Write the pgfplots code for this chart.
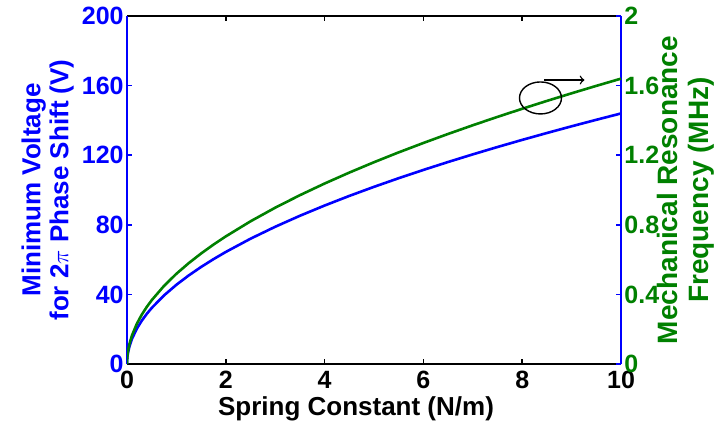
\documentclass[border=0pt]{standalone}
\usepackage{pgfplots}
\pgfplotsset{compat=1.18}
\usepackage{fontspec}
\setmainfont{Liberation Sans}
\definecolor{mblue}{RGB}{0,0,255}
\definecolor{mgreen}{RGB}{0,128,0}
\pgfplotstableread{
k V f
0 0 0
0.005 3.22 0.0367
0.01 4.55 0.0519
0.02 6.44 0.0733
0.05 10.18 0.116
0.1 14.4 0.164
0.2 20.36 0.2319
0.3 24.94 0.2841
0.4 28.8 0.328
0.5 32.2 0.3667
0.75 39.44 0.4491
1 45.54 0.5186
1.25 50.91 0.5798
1.5 55.77 0.6352
1.75 60.24 0.6861
2 64.4 0.7334
2.5 72.0 0.82
3 78.87 0.8983
3.5 85.19 0.9702
4 91.07 1.0372
4.5 96.6 1.1001
5 101.82 1.1597
5.5 106.79 1.2163
6 111.54 1.2703
6.5 116.1 1.3222
7 120.48 1.3721
7.5 124.71 1.4203
8 128.8 1.4668
8.5 132.76 1.512
9 136.61 1.5558
9.5 140.35 1.5985
10 144 1.64
}\datatable
\begin{document}
\begin{tikzpicture}
\pgfplotsset{
  common/.style={
    at={(0,0)}, anchor=south west,
    scale only axis, width=247pt, height=174pt,
    xmin=0, xmax=10, xtick={0,2,...,10},
    /pgf/number format/assume math mode=true,
    tick label style={font=\bfseries\fontsize{12.5}{14}\selectfont},
    label style={font=\bfseries\fontsize{13}{14}\selectfont, align=center},
    tick align=inside, major tick length=2.5pt,
  }
}
\begin{axis}[common,
  axis y line*=left,
  ymin=0, ymax=200, ytick={0,40,...,200},
  x axis line style={black, line width=1pt},
  y axis line style={mblue, line width=1pt},
  x tick style={black, line width=0.8pt},
  y tick style={mblue, line width=0.8pt},
  yticklabel style={mblue, inner xsep=1.5pt},
  xticklabel style={black},
  xlabel={Spring Constant (N/m)},
  xlabel style={yshift=3pt, xshift=-9pt},
  ylabel={Minimum Voltage\\for 2$\pi$ Phase Shift (V)},
  ylabel style={mblue, yshift=-1pt},
]
\addplot[mblue, line width=1.3pt] table[x=k, y=V] {\datatable};
\end{axis}
\begin{axis}[common,
  axis y line*=right, axis x line=none,
  ymin=0, ymax=2, ytick={0,0.4,...,2.0},
  yticklabels={0,0.4,0.8,1.2,1.6,2},
  y axis line style={mblue, line width=1pt},
  y tick style={mblue, line width=0.8pt},
  yticklabel style={mgreen, inner xsep=1.5pt},
  ylabel={Mechanical Resonance\\Frequency (MHz)},
  ylabel style={mgreen, font=\bfseries\fontsize{14}{15.5}\selectfont, yshift=6pt},
]
\addplot[mgreen, line width=1.3pt] table[x=k, y=f] {\datatable};
\draw[black, line width=0.7pt] (axis cs:8.37,1.529) ellipse [x radius=10.5pt, y radius=8pt];
\draw[black, line width=0.7pt, ->] (axis cs:8.45,1.632) -- (axis cs:9.26,1.632);
\end{axis}
\pgfresetboundingbox
\path[use as bounding box] (-63.5pt,-32pt) rectangle (294pt,182pt);
\end{tikzpicture}
\end{document}
